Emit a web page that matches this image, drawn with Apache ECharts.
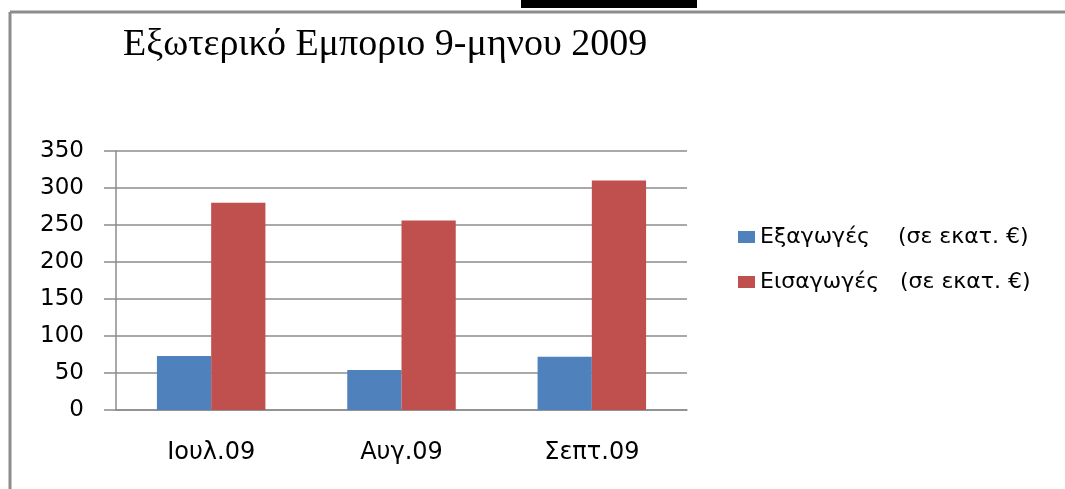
<!DOCTYPE html>
<html>
<head>
<meta charset="utf-8">
<script src="https://cdn.jsdelivr.net/npm/echarts@6/dist/echarts.min.js"></script>
<style>
    html, body { margin: 0; padding: 0; background: #fff; }
    #chart { width: 1065px; height: 489px; }
</style>
</head>
<body>
<div id="chart"></div>
<script>
// Foreign trade, 9 months of 2009
const months = ['Ιουλ.09', 'Αυγ.09', 'Σεπτ.09'];
const exportsValues = [73, 54, 72];
const importsValues = [280, 256, 310];
const seriesNames = ['Εξαγωγές    (σε εκατ. €)', 'Εισαγωγές   (σε εκατ. €)'];
const titleText = 'Εξωτερικό Εμποριο 9-μηνου 2009';

const chart = echarts.init(document.getElementById('chart'));

const axisGray = '#8c8c8c';
const labelFont = 'DejaVu Sans';

const option = {
    backgroundColor: '#ffffff',
    animation: false,
    title: {
        text: titleText,
        left: 118,
        top: 21,
        textStyle: {
            fontFamily: 'Liberation Serif',
            fontWeight: 'normal',
            fontSize: 38,
            color: '#000'
        }
    },
    legend: {
        orient: 'vertical',
        left: 733,
        top: 221,
        itemWidth: 17,
        itemHeight: 12,
        itemGap: 23,
        icon: 'rect',
        data: seriesNames,
        textStyle: {
            fontFamily: labelFont,
            fontSize: 22,
            color: '#000'
        }
    },
    grid: {
        left: 116,
        right: 378,
        top: 151,
        bottom: 79
    },
    xAxis: {
        type: 'category',
        data: months,
        axisLine: { lineStyle: { color: axisGray, width: 1.5 } },
        axisTick: { length: 8, lineStyle: { color: axisGray, width: 1.5 } },
        axisLabel: {
            margin: 31,
            fontFamily: labelFont,
            fontSize: 24,
            color: '#000'
        }
    },
    yAxis: {
        type: 'value',
        min: 0,
        max: 350,
        interval: 50,
        axisLine: { show: true, lineStyle: { color: axisGray, width: 1.5 } },
        axisTick: { show: true, length: 12, lineStyle: { color: axisGray, width: 1.5 } },
        splitLine: { lineStyle: { color: axisGray, width: 1.5 } },
        axisLabel: {
            margin: 32,
            fontFamily: labelFont,
            fontSize: 23,
            color: '#000'
        }
    },
    series: [
        {
            name: seriesNames[0],
            type: 'bar',
            data: exportsValues,
            barGap: '0%',
            barCategoryGap: '43%',
            itemStyle: { color: '#4F81BD' }
        },
        {
            name: seriesNames[1],
            type: 'bar',
            data: importsValues,
            barGap: '0%',
            barCategoryGap: '43%',
            itemStyle: { color: '#C0504D' }
        }
    ],
    graphic: [
        // frame of the pasted chart
        { type: 'line', shape: { x1: 10, y1: 12, x2: 1065, y2: 12 }, style: { stroke: '#8c8c8c', lineWidth: 3 } },
        { type: 'line', shape: { x1: 10, y1: 12, x2: 10, y2: 489 }, style: { stroke: '#8c8c8c', lineWidth: 3 } },
        // cropped black header strip
        { type: 'rect', shape: { x: 521, y: 0, width: 176, height: 8 }, style: { fill: '#000' } }
    ]
};

chart.setOption(option);
</script>
</body>
</html>
